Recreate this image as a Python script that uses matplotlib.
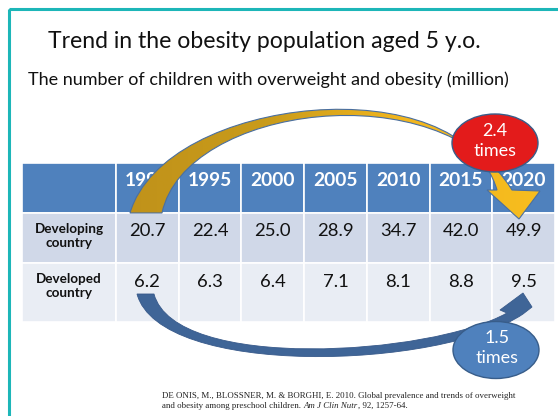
"""
Slide: trend in the number of overweight / obese children under 5,
table of developing vs developed countries with growth arrows.
"""
import numpy as np
import matplotlib
matplotlib.use("Agg")
import matplotlib.pyplot as plt
from matplotlib.patches import Rectangle, Ellipse, PathPatch
from matplotlib.path import Path
from matplotlib.colors import LinearSegmentedColormap

W, H = 558, 416

TITLE = "Trend in the obesity population aged 5 y.o."
SUBTITLE = "The number of children with overweight and obesity (million)"

years = ["1990", "1995", "2000", "2005", "2010", "2015", "2020"]
developing = [20.7, 22.4, 25.0, 28.9, 34.7, 42.0, 49.9]
developed = [6.2, 6.3, 6.4, 7.1, 8.1, 8.8, 9.5]
row_labels = ["Developing\ncountry", "Developed\ncountry"]

ratio_developing = "2.4\ntimes"
ratio_developed = "1.5\ntimes"

CITE_1 = "DE ONIS, M., BLOSSNER, M. & BORGHI, E. 2010. Global prevalence and trends of overweight"
CITE_2A = "and obesity among preschool children. "
CITE_2B = "Am J Clin Nutr"
CITE_2C = ", 92, 1257-64."

HEADER = "#4F81BD"
ROW1 = "#D0D8E8"
ROW2 = "#E9EDF4"
OUTLINE = "#385D8A"

FONT = "Lato"


def bezier_band(outer, inner, head=None):
    """Closed path: outer cubic, optional arrowhead, inner cubic reversed"""
    verts = [outer[0], outer[1], outer[2], outer[3]]
    codes = [Path.MOVETO, Path.CURVE4, Path.CURVE4, Path.CURVE4]
    if head:
        for p in head:
            verts.append(p)
            codes.append(Path.LINETO)
    verts += [inner[3], inner[2], inner[1], inner[0], outer[0]]
    codes += [Path.LINETO, Path.CURVE4, Path.CURVE4, Path.CURVE4, Path.CLOSEPOLY]
    return Path(verts, codes)


def main():
    fig = plt.figure(figsize=(W / 100, H / 100), dpi=100)
    ax = fig.add_axes([0, 0, 1, 1])
    ax.set_xlim(0, W)
    ax.set_ylim(H, 0)
    ax.axis("off")

    # slide frame
    ax.add_patch(Rectangle((9, 9), 800, 600, fill=False, edgecolor="#1DB6B8", lw=2.2))

    ax.text(264, 42, TITLE, ha="center", va="center", fontsize=16.6, family=FONT, color="#111")
    ax.text(268, 80, SUBTITLE, ha="center", va="center", fontsize=13, family=FONT, color="#111")

    # table
    x_left, x_first, x_right = 22, 116, 555
    row_edges = [163, 213, 263, 322]
    col_w = (x_right - x_first) / len(years)
    fills = [HEADER, ROW1, ROW2]
    for r in range(3):
        y0, y1 = row_edges[r], row_edges[r + 1]
        ax.add_patch(Rectangle((x_left, y0), x_first - x_left, y1 - y0, facecolor=fills[r],
                               edgecolor="white", lw=1.2))
        for c in range(len(years)):
            ax.add_patch(Rectangle((x_first + c * col_w, y0), col_w, y1 - y0, facecolor=fills[r],
                                   edgecolor="white", lw=1.2))

    for c, yr in enumerate(years):
        xc = x_first + (c + 0.5) * col_w
        ax.text(xc, row_edges[0] + 17, yr, ha="center", va="center", fontsize=13.8,
                fontweight="bold", family=FONT, color="white")
        ax.text(xc, row_edges[1] + 18, f"{developing[c]:.1f}", ha="center", va="center",
                fontsize=13.3, family=FONT, color="#111")
        ax.text(xc, row_edges[2] + 19, f"{developed[c]:.1f}", ha="center", va="center",
                fontsize=13.3, family=FONT, color="#111")

    for r, lab in enumerate(row_labels):
        ax.text((x_left + x_first) / 2, row_edges[r + 1] + 23, lab, ha="center",
                va="center", fontsize=9.7, fontweight="bold", family=FONT, color="#111",
                linespacing=1.25)

    # gold curved arrow (developing growth)
    gold_path = bezier_band(
        outer=[(130, 213), (165, 95), (460, 65), (497, 190)],
        inner=[(162, 213), (185, 105), (440, 72), (512, 190)],
        head=[(487, 190), (519, 219), (540, 191)],
    )
    gold = PathPatch(gold_path, facecolor="none", edgecolor="#4A6FA0", lw=0.8, zorder=5)
    ax.add_patch(gold)
    cmap = LinearSegmentedColormap.from_list("gold", ["#C0921A", "#C99B1A", "#F2B61E", "#F7BD1F"])
    grad = ax.imshow(np.linspace(0, 1, 256).reshape(1, -1), cmap=cmap, aspect="auto",
                     extent=(125, 545, 225, 60), zorder=4)
    grad.set_clip_path(gold)

    ax.add_patch(Ellipse((495, 143), 86, 58, facecolor="#E31B1B", edgecolor=OUTLINE, lw=1, zorder=6))
    ax.text(495, 141, ratio_developing, ha="center", va="center", fontsize=13, family=FONT,
            color="white", linespacing=1.3, zorder=7)

    # blue curved arrow (developed growth)
    blue_path = bezier_band(
        outer=[(137, 294), (160, 378), (440, 370), (523, 314)],
        inner=[(154, 294), (175, 372), (430, 356), (507, 313)],
        head=[(532, 307), (523, 293), (500, 310)],
    )
    ax.add_patch(PathPatch(blue_path, facecolor="#3F6597", edgecolor="#37598A", lw=0.6, zorder=5))

    ax.add_patch(Ellipse((496, 350), 86, 57, facecolor=HEADER, edgecolor=OUTLINE, lw=1, zorder=6))
    ax.text(497, 348, ratio_developed, ha="center", va="center", fontsize=13, family=FONT,
            color="white", linespacing=1.3, zorder=7)

    # citation, with italic journal name
    cite_kw = dict(fontsize=6.4, family="Liberation Serif", color="#222", va="baseline")
    ax.text(162, 398, CITE_1, ha="left", **cite_kw)
    renderer = fig.canvas.get_renderer()
    x = 162
    for part, style in [(CITE_2A, "normal"), (CITE_2B, "italic"), (CITE_2C, "normal")]:
        t = ax.text(x, 408, part, ha="left", style=style, **cite_kw)
        bb = t.get_window_extent(renderer)
        x = ax.transData.inverted().transform((bb.x1, bb.y0))[0]

    fig.savefig("out.png", dpi=100)


if __name__ == "__main__":
    main()
